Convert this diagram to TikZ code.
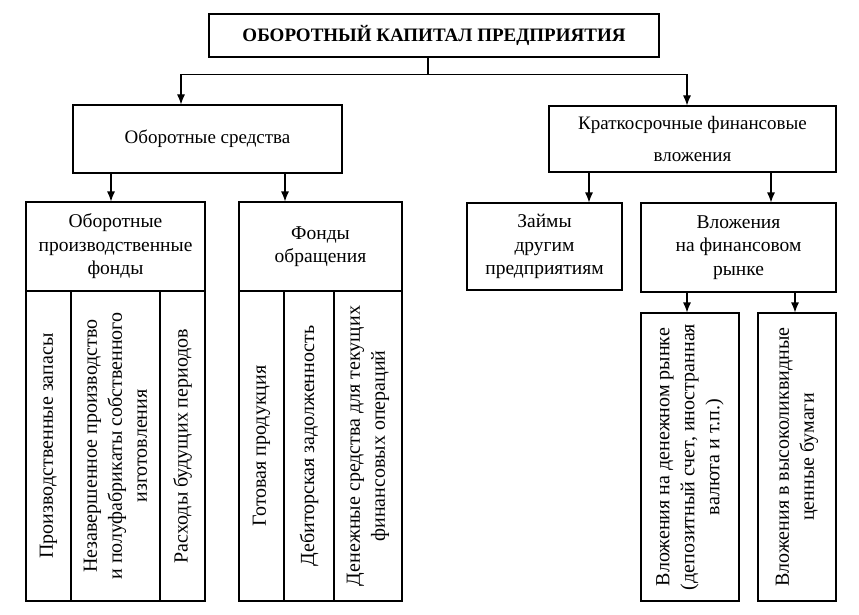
\documentclass[tikz,border=0pt]{standalone}
\usepackage{fontspec}
\setmainfont{Liberation Serif}
\usetikzlibrary{shapes, arrows.meta, positioning, calc}
\tikzstyle{block} = [rectangle, draw, line width=1.1pt, inner sep=2pt, align=center, font=\fontsize{19.5}{23.5}\selectfont]
\tikzstyle{column} = [block, rotate=90, font=\fontsize{20}{25}\selectfont]
\tikzstyle{line} = [draw, line width=1.1pt, -{Latex[length=10pt,width=8pt]}]

\begin{document}
\begin{tikzpicture}[x=1pt, y=-1pt]
    \useasboundingbox (0,0) rectangle (859,615);

    % Top level
    \node [block, minimum width=450pt, minimum height=43pt, font=\fontsize{19}{23.5}\selectfont\bfseries] (capital) at (434,35.5) {ОБОРОТНЫЙ КАПИТАЛ ПРЕДПРИЯТИЯ};
    \node [block, minimum width=269pt, minimum height=68pt, font=\fontsize{19}{23.5}\selectfont] (sredstva) at (207.5,139) {Оборотные средства};
    \node [block, minimum width=287pt, minimum height=66pt, font=\fontsize{19}{23.5}\selectfont] (vlozheniya) at (692.5,139) {Краткосрочные финансовые\\[8pt]вложения};

    % Second level
    \node [block, minimum width=179pt, minimum height=89pt] (fondy) at (115.5,246.5) {Оборотные\\производственные\\фонды};
    \node [block, minimum width=163pt, minimum height=89pt] (obrashchenie) at (320.5,246.5) {Фонды\\обращения};
    \node [block, minimum width=155pt, minimum height=87pt] (zaimy) at (544.5,246.5) {Займы\\другим\\предприятиям};
    \node [block, minimum width=195pt, minimum height=89pt] (rynok) at (738.5,247.5) {Вложения\\на финансовом\\рынке};

    % Columns
    \node [column, minimum width=310pt, minimum height=45pt] (zapasy) at (48.5,446) {Производственные запасы};
    \node [column, minimum width=310pt, minimum height=89pt] (nezavershennoe) at (115.5,446) {Незавершенное производство\\и полуфабрикаты собственного\\изготовления};
    \node [column, minimum width=310pt, minimum height=45pt] (raskhody) at (182.5,446) {Расходы будущих периодов};
    \node [column, minimum width=310pt, minimum height=45pt] (produktsiya) at (261.5,446) {Готовая продукция};
    \node [column, minimum width=310pt, minimum height=50pt] (debitory) at (309,446) {Дебиторская задолженность};
    \node [column, minimum width=310pt, minimum height=68pt] (dengi) at (368,446) {Денежные средства для текущих\\финансовых операций};
    \node [column, minimum width=288pt, minimum height=98pt] (denezhnyj) at (690,457) {Вложения на денежном рынке\\(депозитный счет, иностранная\\валюта и т.п.)};
    \node [column, minimum width=288pt, minimum height=78pt] (bumagi) at (797,457) {Вложения в высоколиквидные\\ценные бумаги};

    % Lines
    \path [line] ([xshift=-6pt]capital.south) -- ++(0,17) -| ([xshift=-26.5pt]sredstva.north);
    \path [line] ([xshift=-6pt]capital.south) -- ++(0,17) -| ([xshift=-5.5pt]vlozheniya.north);
    \path [line] ([xshift=-4.5pt]fondy.north |- sredstva.south) -- ([xshift=-4.5pt]fondy.north);
    \path [line] ([xshift=-35.5pt]obrashchenie.north |- sredstva.south) -- ([xshift=-35.5pt]obrashchenie.north);
    \path [line] ([xshift=44.5pt]zaimy.north |- vlozheniya.south) -- ([xshift=44.5pt]zaimy.north);
    \path [line] ([xshift=32.5pt]rynok.north |- vlozheniya.south) -- ([xshift=32.5pt]rynok.north);
    \path [line] ([xshift=-3pt]denezhnyj.east |- rynok.south) -- ([xshift=-3pt]denezhnyj.east);
    \path [line] ([xshift=-2pt]bumagi.east |- rynok.south) -- ([xshift=-2pt]bumagi.east);
\end{tikzpicture}
\end{document}
